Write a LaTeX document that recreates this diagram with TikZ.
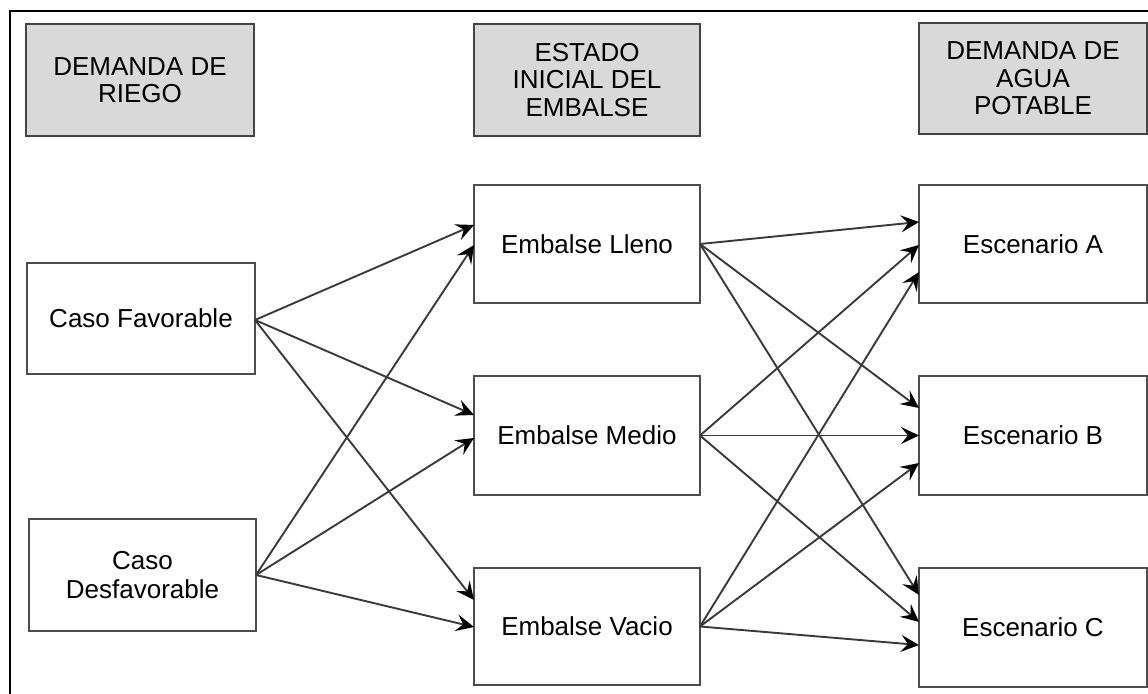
\documentclass[tikz,border=0pt]{standalone}
\usepackage{fontspec}
\setmainfont{Liberation Sans}
\usetikzlibrary{arrows.meta}
\definecolor{hdrfill}{HTML}{D9D9D9}
\definecolor{hdrline}{HTML}{444444}
\definecolor{boxline}{HTML}{4D4D4D}
\definecolor{arrline}{HTML}{3A3A3A}
\begin{document}
\begin{tikzpicture}[x=0.5pt,y=-0.5pt,
  hdr/.style={draw=hdrline, fill=hdrfill, line width=1pt, minimum width=114pt,
    minimum height=56pt, inner sep=0pt, outer sep=0pt, align=center,
    font=\fontsize{13}{13.75}\selectfont},
  cbox/.style={draw=boxline, fill=white, line width=1pt, minimum width=114pt,
    inner sep=0pt, outer sep=0pt, align=center,
    font=\fontsize{13}{14.5}\selectfont},
  conn/.style={draw=arrline, line width=0.95pt,
    -{Stealth[length=9pt,width=8.5pt,inset=3.5pt,color=black]}}
]
\useasboundingbox (0,0) rectangle (1148,694);
% outer frame (right and bottom edges lie outside the picture)
\draw[line width=1.1pt, black] (10,720) -- (10,11) -- (1170,11);

% headers
\node[hdr] (h1) at (140,80) {DEMANDA DE\\RIEGO};
\node[hdr, minimum width=113pt] (h2) at (587,80) {ESTADO\\INICIAL DEL\\EMBALSE};
\node[hdr, minimum height=55.5pt] (h3) at (1033,78.5) {DEMANDA DE\\AGUA\\POTABLE};

% left column
\node[cbox, minimum height=55.5pt] (fav) at (141,318.5) {Caso Favorable};
\node[cbox, minimum width=113.5pt, minimum height=56pt] (desf) at (142.5,575) {Caso\\Desfavorable};

% middle column
\node[cbox, minimum width=113pt, minimum height=59pt] (lleno) at (587,244) {Embalse Lleno};
\node[cbox, minimum width=113pt, minimum height=59.5pt] (medio) at (587,435.5) {Embalse Medio};
\node[cbox, minimum width=113pt, minimum height=58.5pt] (vacio) at (587,626.5) {Embalse Vacio};

% right column
\node[cbox, minimum height=59pt] (ea) at (1033,244) {Escenario A};
\node[cbox, minimum height=59.5pt] (eb) at (1033,435.5) {Escenario B};
\node[cbox, minimum height=59.5pt] (ec) at (1033,627.5) {Escenario C};

% connectors: left -> middle
\draw[conn] ([yshift=-0.75pt]fav.east) -- ([yshift=9.5pt]lleno.west);
\draw[conn] ([yshift=-0.75pt]fav.east) -- ([yshift=10.25pt]medio.west);
\draw[conn] ([yshift=-0.75pt]fav.east) -- ([yshift=13.25pt]vacio.west);
\draw[conn] (desf.east) -- ([yshift=-0.5pt]lleno.west);
\draw[conn] (desf.east) -- ([yshift=-1.25pt]medio.west);
\draw[conn] (desf.east) -- ([yshift=-0.25pt]vacio.west);

% connectors: middle -> right
\draw[conn] (lleno.east) -- ([yshift=11pt]ea.west);
\draw[conn] (lleno.east) -- ([yshift=13.75pt]eb.west);
\draw[conn] (lleno.east) -- ([yshift=16.25pt]ec.west);
\draw[conn] (medio.east) -- ([yshift=-0.5pt]ea.west);
\draw[conn] (medio.east) -- (eb.west);
\draw[conn] (medio.east) -- ([yshift=2.75pt]ec.west);
\draw[conn] (vacio.east) -- ([yshift=-14pt]ea.west);
\draw[conn] (vacio.east) -- ([yshift=-13.75pt]eb.west);
\draw[conn] (vacio.east) -- ([yshift=-8.75pt]ec.west);
\end{tikzpicture}
\end{document}
